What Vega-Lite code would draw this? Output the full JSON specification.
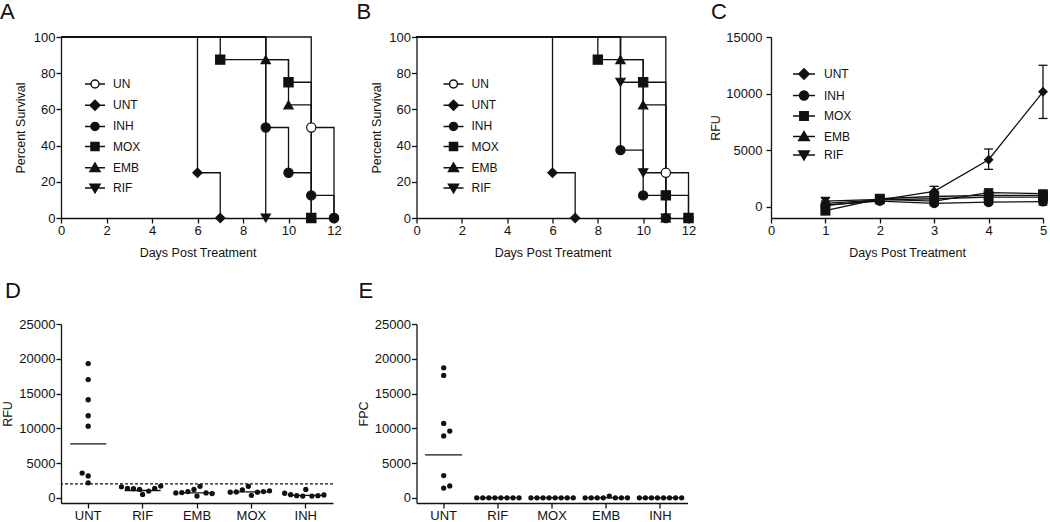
{
  "$schema": "https://vega.github.io/schema/vega-lite/v6.json",
  "padding": {"left": 0, "top": 1, "right": 0, "bottom": 0},
  "config": {
    "font": "Liberation Sans",
    "view": {"stroke": null},
    "axis": {"grid": false, "labelFont": "Liberation Sans", "titleFont": "Liberation Sans", "labelFontSize": 13, "titleFontSize": 12.5, "titleFontWeight": "normal", "labelColor": "#111", "titleColor": "#111", "domainColor": "#111", "tickColor": "#111", "tickSize": 5, "domainWidth": 1.3, "tickWidth": 1.3, "labelPadding": 1, "labelFlush": false, "labelOverlap": false},
    "legend": {"labelFont": "Liberation Sans", "labelFontSize": 12, "labelColor": "#111", "symbolSize": 100, "padding": 0, "rowPadding": 6.2},
    "tick": {"opacity": 1},
    "title": {"font": "Liberation Sans", "fontSize": 22, "fontWeight": "normal", "anchor": "start", "frame": "group", "color": "#111", "baseline": "alphabetic"}
  },
  "datasets": {
    "surA": [
      {"group": "UN", "day": 0, "pct": 100}, {"group": "UN", "day": 11, "pct": 50}, {"group": "UN", "day": 12, "pct": 0},
      {"group": "UNT", "day": 0, "pct": 100}, {"group": "UNT", "day": 6, "pct": 25}, {"group": "UNT", "day": 7, "pct": 0},
      {"group": "INH", "day": 0, "pct": 100}, {"group": "INH", "day": 9, "pct": 50}, {"group": "INH", "day": 10, "pct": 25}, {"group": "INH", "day": 11, "pct": 12.5}, {"group": "INH", "day": 12, "pct": 0},
      {"group": "EMB", "day": 0, "pct": 100}, {"group": "EMB", "day": 9, "pct": 87.5}, {"group": "EMB", "day": 10, "pct": 62.5}, {"group": "EMB", "day": 11, "pct": 0},
      {"group": "MOX", "day": 0, "pct": 100}, {"group": "MOX", "day": 7, "pct": 87.5}, {"group": "MOX", "day": 10, "pct": 75}, {"group": "MOX", "day": 11, "pct": 0},
      {"group": "RIF", "day": 0, "pct": 100}, {"group": "RIF", "day": 9, "pct": 0}
    ],
    "surB": [
      {"group": "UN", "day": 0, "pct": 100}, {"group": "UN", "day": 11, "pct": 25}, {"group": "UN", "day": 12, "pct": 0},
      {"group": "UNT", "day": 0, "pct": 100}, {"group": "UNT", "day": 6, "pct": 25}, {"group": "UNT", "day": 7, "pct": 0},
      {"group": "INH", "day": 0, "pct": 100}, {"group": "INH", "day": 9, "pct": 37.5}, {"group": "INH", "day": 10, "pct": 12.5}, {"group": "INH", "day": 11, "pct": 0},
      {"group": "EMB", "day": 0, "pct": 100}, {"group": "EMB", "day": 9, "pct": 87.5}, {"group": "EMB", "day": 10, "pct": 62.5}, {"group": "EMB", "day": 11, "pct": 0},
      {"group": "MOX", "day": 0, "pct": 100}, {"group": "MOX", "day": 8, "pct": 87.5}, {"group": "MOX", "day": 10, "pct": 75}, {"group": "MOX", "day": 11, "pct": 12.5}, {"group": "MOX", "day": 12, "pct": 0},
      {"group": "RIF", "day": 0, "pct": 100}, {"group": "RIF", "day": 9, "pct": 75}, {"group": "RIF", "day": 10, "pct": 25}, {"group": "RIF", "day": 11, "pct": 0}
    ],
    "rfu": [
      {"group": "UNT", "day": 1, "value": 100, "lo": -100, "hi": 300}, {"group": "UNT", "day": 2, "value": 600, "lo": 400, "hi": 800}, {"group": "UNT", "day": 3, "value": 1350, "lo": 900, "hi": 1800}, {"group": "UNT", "day": 4, "value": 4150, "lo": 3300, "hi": 5100}, {"group": "UNT", "day": 5, "value": 10150, "lo": 7800, "hi": 12500},
      {"group": "INH", "day": 1, "value": 150, "lo": 0, "hi": 300}, {"group": "INH", "day": 2, "value": 500, "lo": 350, "hi": 650}, {"group": "INH", "day": 3, "value": 300, "lo": 150, "hi": 450}, {"group": "INH", "day": 4, "value": 400, "lo": 250, "hi": 550}, {"group": "INH", "day": 5, "value": 450, "lo": 150, "hi": 650},
      {"group": "MOX", "day": 1, "value": -350, "lo": -550, "hi": -150}, {"group": "MOX", "day": 2, "value": 700, "lo": 500, "hi": 900}, {"group": "MOX", "day": 3, "value": 900, "lo": 700, "hi": 1100}, {"group": "MOX", "day": 4, "value": 1000, "lo": 800, "hi": 1200}, {"group": "MOX", "day": 5, "value": 1000, "lo": 800, "hi": 1200},
      {"group": "EMB", "day": 1, "value": 300, "lo": 100, "hi": 500}, {"group": "EMB", "day": 2, "value": 600, "lo": 450, "hi": 750}, {"group": "EMB", "day": 3, "value": 700, "lo": 500, "hi": 900}, {"group": "EMB", "day": 4, "value": 850, "lo": 650, "hi": 1050}, {"group": "EMB", "day": 5, "value": 850, "lo": 650, "hi": 1050},
      {"group": "RIF", "day": 1, "value": 500, "lo": 250, "hi": 780}, {"group": "RIF", "day": 2, "value": 650, "lo": 450, "hi": 850}, {"group": "RIF", "day": 3, "value": 500, "lo": 300, "hi": 700}, {"group": "RIF", "day": 4, "value": 1250, "lo": 1000, "hi": 1550}, {"group": "RIF", "day": 5, "value": 1150, "lo": 950, "hi": 1420}
    ],
    "dRFU": [
      {"group": "UNT", "col": 0, "v": 19300}, {"group": "UNT", "col": 0, "v": 17000}, {"group": "UNT", "col": 0, "v": 14100}, {"group": "UNT", "col": 0, "v": 11800}, {"group": "UNT", "col": 0, "v": 10300}, {"group": "UNT", "col": -2, "v": 3550}, {"group": "UNT", "col": 0, "v": 3150}, {"group": "UNT", "col": 0, "v": 2150},
      {"group": "RIF", "col": -7, "v": 1580}, {"group": "RIF", "col": -5, "v": 1350}, {"group": "RIF", "col": -3, "v": 1300}, {"group": "RIF", "col": -1, "v": 1200}, {"group": "RIF", "col": 0, "v": 480}, {"group": "RIF", "col": 2, "v": 960}, {"group": "RIF", "col": 4, "v": 1350}, {"group": "RIF", "col": 6, "v": 1680},
      {"group": "EMB", "col": -7, "v": 700}, {"group": "EMB", "col": -5, "v": 750}, {"group": "EMB", "col": -3, "v": 900}, {"group": "EMB", "col": -1, "v": 1200}, {"group": "EMB", "col": 0, "v": 250}, {"group": "EMB", "col": 1, "v": 1650}, {"group": "EMB", "col": 3, "v": 700}, {"group": "EMB", "col": 5, "v": 600},
      {"group": "MOX", "col": -7, "v": 800}, {"group": "MOX", "col": -5, "v": 850}, {"group": "MOX", "col": -3, "v": 1150}, {"group": "MOX", "col": -1, "v": 1650}, {"group": "MOX", "col": 0, "v": 350}, {"group": "MOX", "col": 2, "v": 800}, {"group": "MOX", "col": 4, "v": 900}, {"group": "MOX", "col": 6, "v": 1000},
      {"group": "INH", "col": -7, "v": 650}, {"group": "INH", "col": -5, "v": 450}, {"group": "INH", "col": -3, "v": 300}, {"group": "INH", "col": -1, "v": 250}, {"group": "INH", "col": 0, "v": 1200}, {"group": "INH", "col": 2, "v": 250}, {"group": "INH", "col": 4, "v": 300}, {"group": "INH", "col": 6, "v": 400}
    ],
    "dMean": [
      {"group": "UNT", "mean": 7760}, {"group": "RIF", "mean": 1050}, {"group": "EMB", "mean": 720}, {"group": "MOX", "mean": 860}, {"group": "INH", "mean": 350}
    ],
    "eFPC": [
      {"group": "UNT", "col": 0, "v": 18700}, {"group": "UNT", "col": 0, "v": 17600}, {"group": "UNT", "col": 0, "v": 10700}, {"group": "UNT", "col": 2, "v": 9600}, {"group": "UNT", "col": 0, "v": 8900}, {"group": "UNT", "col": 0, "v": 3200}, {"group": "UNT", "col": 2, "v": 1700}, {"group": "UNT", "col": 0, "v": 1400},
      {"group": "RIF", "col": -7, "v": 0}, {"group": "RIF", "col": -5, "v": 0}, {"group": "RIF", "col": -3, "v": 0}, {"group": "RIF", "col": -1, "v": 0}, {"group": "RIF", "col": 1, "v": 0}, {"group": "RIF", "col": 3, "v": 0}, {"group": "RIF", "col": 5, "v": 0}, {"group": "RIF", "col": 7, "v": 0},
      {"group": "MOX", "col": -7, "v": 0}, {"group": "MOX", "col": -5, "v": 0}, {"group": "MOX", "col": -3, "v": 0}, {"group": "MOX", "col": -1, "v": 0}, {"group": "MOX", "col": 1, "v": 0}, {"group": "MOX", "col": 3, "v": 0}, {"group": "MOX", "col": 5, "v": 0}, {"group": "MOX", "col": 7, "v": 0},
      {"group": "EMB", "col": -7, "v": 0}, {"group": "EMB", "col": -5, "v": 0}, {"group": "EMB", "col": -3, "v": 0}, {"group": "EMB", "col": -1, "v": 0}, {"group": "EMB", "col": 1, "v": 250}, {"group": "EMB", "col": 3, "v": 0}, {"group": "EMB", "col": 5, "v": 0}, {"group": "EMB", "col": 7, "v": 0},
      {"group": "INH", "col": -7, "v": 0}, {"group": "INH", "col": -5, "v": 0}, {"group": "INH", "col": -3, "v": 0}, {"group": "INH", "col": -1, "v": 0}, {"group": "INH", "col": 1, "v": 0}, {"group": "INH", "col": 3, "v": 0}, {"group": "INH", "col": 5, "v": 0}, {"group": "INH", "col": 7, "v": 0}
    ],
    "eMean": [
      {"group": "UNT", "mean": 6180}, {"group": "RIF", "mean": 0}, {"group": "MOX", "mean": 0}, {"group": "EMB", "mean": 0}, {"group": "INH", "mean": 0}
    ],
    "thr": [{"t": 2000}]
  },
  "bounds": "flush",
  "columns": 3,
  "spacing": {"row": 106, "column": 82.5},
  "concat": [
    {
      "width": 273, "height": 181,
      "title": {"text": "A", "dx": -61, "offset": 7},
      "data": {"name": "surA"},
      "encoding": {
        "x": {"field": "day", "type": "quantitative", "scale": {"domain": [0, 12], "nice": false}, "axis": {"values": [0, 2, 4, 6, 8, 10, 12], "title": "Days Post Treatment", "titlePadding": 9}},
        "y": {"field": "pct", "type": "quantitative", "scale": {"domain": [0, 100], "nice": false}, "axis": {"values": [0, 20, 40, 60, 80, 100], "title": "Percent Survival", "titlePadding": 6}}
      },
      "layer": [
        {"mark": {"type": "line", "interpolate": "step-after", "color": "#111", "strokeWidth": 1.3}, "encoding": {"detail": {"field": "group"}}},
        {"transform": [{"filter": "datum.day > 0"}],
         "mark": {"type": "point", "filled": true, "size": 85, "stroke": "#111", "strokeWidth": 1.2, "opacity": 1},
         "encoding": {
           "shape": {"field": "group", "type": "nominal", "scale": {"domain": ["UN", "UNT", "INH", "MOX", "EMB", "RIF"], "range": ["circle", "diamond", "circle", "square", "triangle-up", "triangle-down"]}, "legend": null},
           "fill": {"field": "group", "type": "nominal", "scale": {"domain": ["UN", "UNT", "INH", "MOX", "EMB", "RIF"], "range": ["white", "#111", "#111", "#111", "#111", "#111"]}, "legend": null}
         }},
        {"transform": [{"filter": "datum.day < 0"}],
         "mark": {"type": "point", "filled": true, "size": 100, "stroke": "#111", "strokeWidth": 1.3, "opacity": 1},
         "encoding": {
           "shape": {"field": "group", "type": "nominal", "scale": {"domain": ["UN", "UNT", "INH", "MOX", "EMB", "RIF"], "range": ["M-2,0H-0.8M0.8,0H2M0.8,0A0.8,0.8,0,1,1,-0.8,0A0.8,0.8,0,1,1,0.8,0Z", "M-2,0H2M-1,0L0,-1L1,0L0,1Z", "M-2,0H2M0.8,0A0.8,0.8,0,1,1,-0.8,0A0.8,0.8,0,1,1,0.8,0Z", "M-2,0H2M-0.8,-0.8H0.8V0.8H-0.8Z", "M-2,0H2M0,-0.95L1,0.75H-1Z", "M-2,0H2M0,0.95L1,-0.75H-1Z"]},
             "legend": {"title": null, "orient": "none", "legendX": 28, "legendY": 41, "labelOffset": 12, "encode": {"symbols": {"update": {"stroke": {"value": "#111"}, "strokeWidth": {"value": 1.3}}}}}},
           "fill": {"field": "group", "type": "nominal", "scale": {"domain": ["UN", "UNT", "INH", "MOX", "EMB", "RIF"], "range": ["white", "#111", "#111", "#111", "#111", "#111"]},
             "legend": {"title": null, "orient": "none", "legendX": 28, "legendY": 41, "labelOffset": 12, "encode": {"symbols": {"update": {"stroke": {"value": "#111"}, "strokeWidth": {"value": 1.3}}}}}}
         }}
      ],
      "resolve": {"scale": {"shape": "independent", "fill": "independent"}}
    },
    {
      "width": 272, "height": 181,
      "title": {"text": "B", "dx": -60, "offset": 7},
      "data": {"name": "surB"},
      "encoding": {
        "x": {"field": "day", "type": "quantitative", "scale": {"domain": [0, 12], "nice": false}, "axis": {"values": [0, 2, 4, 6, 8, 10, 12], "title": "Days Post Treatment", "titlePadding": 9}},
        "y": {"field": "pct", "type": "quantitative", "scale": {"domain": [0, 100], "nice": false}, "axis": {"values": [0, 20, 40, 60, 80, 100], "title": "Percent Survival", "titlePadding": 5}}
      },
      "layer": [
        {"mark": {"type": "line", "interpolate": "step-after", "color": "#111", "strokeWidth": 1.3}, "encoding": {"detail": {"field": "group"}}},
        {"transform": [{"filter": "datum.day > 0"}],
         "mark": {"type": "point", "filled": true, "size": 85, "stroke": "#111", "strokeWidth": 1.2, "opacity": 1},
         "encoding": {
           "shape": {"field": "group", "type": "nominal", "scale": {"domain": ["UN", "UNT", "INH", "MOX", "EMB", "RIF"], "range": ["circle", "diamond", "circle", "square", "triangle-up", "triangle-down"]}, "legend": null},
           "fill": {"field": "group", "type": "nominal", "scale": {"domain": ["UN", "UNT", "INH", "MOX", "EMB", "RIF"], "range": ["white", "#111", "#111", "#111", "#111", "#111"]}, "legend": null}
         }},
        {"transform": [{"filter": "datum.day < 0"}],
         "mark": {"type": "point", "filled": true, "size": 100, "stroke": "#111", "strokeWidth": 1.3, "opacity": 1},
         "encoding": {
           "shape": {"field": "group", "type": "nominal", "scale": {"domain": ["UN", "UNT", "INH", "MOX", "EMB", "RIF"], "range": ["M-2,0H-0.8M0.8,0H2M0.8,0A0.8,0.8,0,1,1,-0.8,0A0.8,0.8,0,1,1,0.8,0Z", "M-2,0H2M-1,0L0,-1L1,0L0,1Z", "M-2,0H2M0.8,0A0.8,0.8,0,1,1,-0.8,0A0.8,0.8,0,1,1,0.8,0Z", "M-2,0H2M-0.8,-0.8H0.8V0.8H-0.8Z", "M-2,0H2M0,-0.95L1,0.75H-1Z", "M-2,0H2M0,0.95L1,-0.75H-1Z"]},
             "legend": {"title": null, "orient": "none", "legendX": 31, "legendY": 41, "labelOffset": 12, "encode": {"symbols": {"update": {"stroke": {"value": "#111"}, "strokeWidth": {"value": 1.3}}}}}},
           "fill": {"field": "group", "type": "nominal", "scale": {"domain": ["UN", "UNT", "INH", "MOX", "EMB", "RIF"], "range": ["white", "#111", "#111", "#111", "#111", "#111"]},
             "legend": {"title": null, "orient": "none", "legendX": 31, "legendY": 41, "labelOffset": 12, "encode": {"symbols": {"update": {"stroke": {"value": "#111"}, "strokeWidth": {"value": 1.3}}}}}}
         }}
      ],
      "resolve": {"scale": {"shape": "independent", "fill": "independent"}}
    },
    {
      "width": 272, "height": 181,
      "title": {"text": "C", "dx": -60, "offset": 7},
      "data": {"name": "rfu"},
      "encoding": {
        "x": {"field": "day", "type": "quantitative", "scale": {"domain": [0, 5], "nice": false}, "axis": {"values": [0, 1, 2, 3, 4, 5], "title": "Days Post Treatment", "titlePadding": 9}}
      },
      "layer": [
        {"mark": {"type": "rule", "color": "#111", "strokeWidth": 1.3},
         "encoding": {"y": {"field": "lo", "type": "quantitative", "title": "RFU", "scale": {"domain": [-1000, 15000], "nice": false}, "axis": {"values": [0, 5000, 10000, 15000], "format": "d", "title": "RFU", "titlePadding": 3, "labelPadding": 4}}, "y2": {"field": "hi"}}},
        {"mark": {"type": "tick", "orient": "horizontal", "size": 9, "thickness": 1.3, "color": "#111", "opacity": 1},
         "encoding": {"y": {"field": "lo", "type": "quantitative", "title": "RFU", "scale": {"domain": [-1000, 15000], "nice": false}, "axis": {"values": [0, 5000, 10000, 15000], "format": "d", "title": "RFU", "titlePadding": 3, "labelPadding": 4}}}},
        {"mark": {"type": "tick", "orient": "horizontal", "size": 9, "thickness": 1.3, "color": "#111", "opacity": 1},
         "encoding": {"y": {"field": "hi", "type": "quantitative", "title": "RFU", "scale": {"domain": [-1000, 15000], "nice": false}, "axis": {"values": [0, 5000, 10000, 15000], "format": "d", "title": "RFU", "titlePadding": 3, "labelPadding": 4}}}},
        {"mark": {"type": "line", "color": "#111", "strokeWidth": 1.3},
         "encoding": {"y": {"field": "value", "type": "quantitative", "title": "RFU", "scale": {"domain": [-1000, 15000], "nice": false}, "axis": {"values": [0, 5000, 10000, 15000], "format": "d", "title": "RFU", "titlePadding": 3, "labelPadding": 4}}, "detail": {"field": "group"}}},
        {"mark": {"type": "point", "filled": true, "size": 100, "color": "#111", "opacity": 1},
         "encoding": {"y": {"field": "value", "type": "quantitative", "title": "RFU", "scale": {"domain": [-1000, 15000], "nice": false}, "axis": {"values": [0, 5000, 10000, 15000], "format": "d", "title": "RFU", "titlePadding": 3, "labelPadding": 4}},
           "shape": {"field": "group", "type": "nominal", "scale": {"domain": ["UNT", "INH", "MOX", "EMB", "RIF"], "range": ["diamond", "circle", "square", "triangle-up", "triangle-down"]}, "legend": null}}},
        {"transform": [{"filter": "datum.day < 0"}],
         "mark": {"type": "point", "filled": true, "size": 110, "fill": "#111", "stroke": "#111", "strokeWidth": 1.3, "opacity": 1},
         "encoding": {"y": {"field": "value", "type": "quantitative", "title": "RFU", "scale": {"domain": [-1000, 15000], "nice": false}, "axis": {"values": [0, 5000, 10000, 15000], "format": "d", "title": "RFU", "titlePadding": 3, "labelPadding": 4}},
           "shape": {"field": "group", "type": "nominal", "scale": {"domain": ["UNT", "INH", "MOX", "EMB", "RIF"], "range": ["M-2.1,0H2.1M-1,0L0,-1L1,0L0,1Z", "M-2.1,0H2.1M0.85,0A0.85,0.85,0,1,1,-0.85,0A0.85,0.85,0,1,1,0.85,0Z", "M-2.1,0H2.1M-0.8,-0.8H0.8V0.8H-0.8Z", "M-2.1,0H2.1M0,-0.95L1,0.75H-1Z", "M-2.1,0H2.1M0,0.95L1,-0.75H-1Z"]},
             "legend": {"title": null, "orient": "none", "legendX": 27, "legendY": 31, "labelOffset": 14, "symbolSize": 110, "rowPadding": 4.5, "encode": {"symbols": {"update": {"stroke": {"value": "#111"}, "strokeWidth": {"value": 1.3}, "fill": {"value": "#111"}}}}}}}}
      ],
      "resolve": {"scale": {"shape": "independent"}}
    },
    {
      "width": 272, "height": 179,
      "title": {"text": "D", "dx": -56, "offset": 15},
      "layer": [
        {"data": {"name": "thr"},
         "mark": {"type": "rule", "strokeDash": [3, 2], "color": "#111", "strokeWidth": 1.2},
         "encoding": {"y": {"field": "t", "type": "quantitative", "title": "RFU", "scale": {"domain": [-750, 25000], "nice": false}, "axis": {"values": [0, 5000, 10000, 15000, 20000, 25000], "format": "d", "title": "RFU", "titlePadding": 4}}}},
        {"data": {"name": "dRFU"},
         "mark": {"type": "circle", "size": 28, "color": "#111", "opacity": 1},
         "encoding": {
           "x": {"field": "group", "type": "nominal", "sort": ["UNT", "RIF", "EMB", "MOX", "INH"], "scale": {"paddingInner": 0, "paddingOuter": 0}, "axis": {"title": null, "labelAngle": 0, "labelPadding": 1}},
           "xOffset": {"field": "col", "type": "ordinal", "scale": {"domain": [-8, -7, -6, -5, -4, -3, -2, -1, 0, 1, 2, 3, 4, 5, 6, 7, 8], "paddingInner": 0, "paddingOuter": 3.6}},
           "y": {"field": "v", "type": "quantitative", "title": "RFU", "scale": {"domain": [-750, 25000], "nice": false}, "axis": {"values": [0, 5000, 10000, 15000, 20000, 25000], "format": "d", "title": "RFU", "titlePadding": 4}}
         }},
        {"data": {"name": "dMean"},
         "mark": {"type": "tick", "size": 36, "thickness": 1.3, "color": "#111", "opacity": 1},
         "encoding": {
           "x": {"field": "group", "type": "nominal", "sort": ["UNT", "RIF", "EMB", "MOX", "INH"], "scale": {"paddingInner": 0, "paddingOuter": 0}, "axis": {"title": null, "labelAngle": 0, "labelPadding": 1}},
           "y": {"field": "mean", "type": "quantitative", "title": "RFU", "scale": {"domain": [-750, 25000], "nice": false}, "axis": {"values": [0, 5000, 10000, 15000, 20000, 25000], "format": "d", "title": "RFU", "titlePadding": 4}}
         }}
      ]
    },
    {
      "width": 271, "height": 179,
      "title": {"text": "E", "dx": -58, "offset": 15},
      "layer": [
        {"data": {"name": "eFPC"},
         "mark": {"type": "circle", "size": 28, "color": "#111", "opacity": 1},
         "encoding": {
           "x": {"field": "group", "type": "nominal", "sort": ["UNT", "RIF", "MOX", "EMB", "INH"], "scale": {"paddingInner": 0, "paddingOuter": 0}, "axis": {"title": null, "labelAngle": 0, "labelPadding": 1}},
           "xOffset": {"field": "col", "type": "ordinal", "scale": {"domain": [-8, -7, -6, -5, -4, -3, -2, -1, 0, 1, 2, 3, 4, 5, 6, 7, 8], "paddingInner": 0, "paddingOuter": 3.6}},
           "y": {"field": "v", "type": "quantitative", "title": "FPC", "scale": {"domain": [-750, 25000], "nice": false}, "axis": {"values": [0, 5000, 10000, 15000, 20000, 25000], "format": "d", "title": "FPC", "titlePadding": 4}}
         }},
        {"data": {"name": "eMean"},
         "mark": {"type": "tick", "size": 37, "thickness": 1.3, "color": "#111", "opacity": 1},
         "encoding": {
           "x": {"field": "group", "type": "nominal", "sort": ["UNT", "RIF", "MOX", "EMB", "INH"], "scale": {"paddingInner": 0, "paddingOuter": 0}, "axis": {"title": null, "labelAngle": 0, "labelPadding": 1}},
           "y": {"field": "mean", "type": "quantitative", "title": "FPC", "scale": {"domain": [-750, 25000], "nice": false}, "axis": {"values": [0, 5000, 10000, 15000, 20000, 25000], "format": "d", "title": "FPC", "titlePadding": 4}}
         }}
      ]
    }
  ]
}
